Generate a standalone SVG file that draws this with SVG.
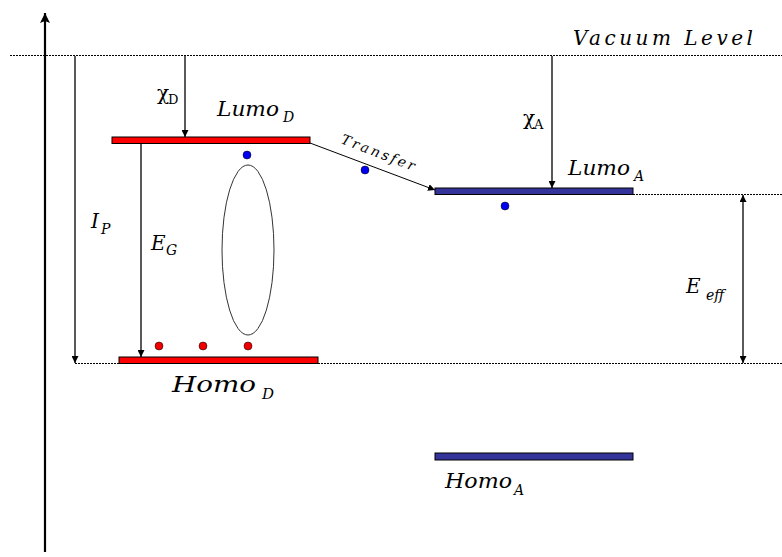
<svg xmlns="http://www.w3.org/2000/svg" width="782" height="557" viewBox="0 0 782 557">
<style>
.lbl{font-family:"DejaVu Serif","Liberation Serif",serif;font-style:italic;fill:#000;font-size:20px}
.sub{font-family:"DejaVu Serif","Liberation Serif",serif;font-style:italic;fill:#000;font-size:14px}
.chi{font-family:"DejaVu Serif","Liberation Serif",serif;fill:#000;font-size:20px}
.chs{font-family:"DejaVu Serif","Liberation Serif",serif;fill:#000;font-size:13px}
.dot{stroke:#000;stroke-width:1;stroke-dasharray:2 1;fill:none}
.ln{stroke:#000;stroke-width:1.3;fill:none}
.red{fill:#ff0000;stroke:#000;stroke-width:1}
.blue{fill:#333399;stroke:#000;stroke-width:1}
</style>
<defs>
<marker id="ah" viewBox="0 0 10 10" refX="10" refY="5" markerWidth="7" markerHeight="7" orient="auto-start-reverse" markerUnits="userSpaceOnUse">
<path d="M0,0 L10,5 L0,10 z" fill="#000"/>
</marker>
<marker id="ahb" viewBox="0 0 10 10" refX="10" refY="5" markerWidth="10" markerHeight="10" orient="auto" markerUnits="userSpaceOnUse">
<path d="M0,0 L10,5 L0,10 L2,5 z" fill="#000"/>
</marker>
</defs>
<rect width="782" height="557" fill="#fff"/>
<g id="connectors">
<line x1="45" y1="552" x2="45" y2="13" stroke="#000" stroke-width="2.2" marker-end="url(#ahb)"/>
<line class="dot" x1="10" y1="55.5" x2="782" y2="55.5"/>
<line class="dot" x1="75" y1="363.5" x2="782" y2="363.5"/>
<line class="dot" x1="633" y1="194.5" x2="782" y2="194.5"/>
<line class="ln" x1="75" y1="56" x2="75" y2="363" marker-end="url(#ah)"/>
<line class="ln" x1="185" y1="56" x2="185" y2="137" marker-end="url(#ah)"/>
<line class="ln" x1="141" y1="144" x2="141" y2="357" marker-end="url(#ah)"/>
<line class="ln" x1="552" y1="56" x2="552" y2="188" marker-end="url(#ah)"/>
<line class="ln" x1="743" y1="195" x2="743" y2="363" marker-start="url(#ah)" marker-end="url(#ah)"/>
<line x1="310" y1="143" x2="435" y2="190" stroke="#000" stroke-width="1" marker-end="url(#ah)"/>
</g>
<g id="lumo-d">
<rect class="red" x="112" y="137" width="198" height="6.5"/>
<text class="lbl" x="217" y="116" textLength="62" lengthAdjust="spacingAndGlyphs">Lumo</text>
<text class="sub" x="283" y="122">D</text>
</g>
<g id="homo-d">
<rect class="red" x="119" y="357" width="199" height="6.5"/>
<text class="lbl" x="172" y="392" style="font-size:22px" textLength="84" lengthAdjust="spacingAndGlyphs">Homo</text>
<text class="sub" x="262" y="399" style="font-size:15px">D</text>
</g>
<g id="lumo-a">
<rect class="blue" x="435" y="188" width="198" height="6.5"/>
<text class="lbl" x="568" y="175" textLength="62" lengthAdjust="spacingAndGlyphs">Lumo</text>
<text class="sub" x="634" y="181">A</text>
</g>
<g id="homo-a">
<rect class="blue" x="435" y="453" width="198" height="7"/>
<text class="lbl" x="445" y="488" textLength="67" lengthAdjust="spacingAndGlyphs">Homo</text>
<text class="sub" x="514" y="495">A</text>
</g>
<g id="exciton">
<ellipse cx="248" cy="250" rx="26" ry="85" fill="none" stroke="#333" stroke-width="1"/>
<circle cx="247" cy="155" r="4" fill="#0000ee" stroke="#000" stroke-width="0.5"/>
<circle cx="159" cy="346" r="4" fill="#ee0000" stroke="#000" stroke-width="0.5"/>
<circle cx="203" cy="346" r="4" fill="#ee0000" stroke="#000" stroke-width="0.5"/>
<circle cx="248" cy="346" r="4" fill="#ee0000" stroke="#000" stroke-width="0.5"/>
</g>
<g id="transfer">
<circle cx="365" cy="170" r="4" fill="#0000ee" stroke="#000" stroke-width="0.5"/>
<circle cx="505" cy="206" r="4" fill="#0000ee" stroke="#000" stroke-width="0.5"/>
<text class="sub" transform="translate(340,143) rotate(21)" textLength="78" lengthAdjust="spacing">Transfer</text>
</g>
<g id="labels">
<text class="lbl" x="573" y="45" textLength="180" lengthAdjust="spacing">Vacuum Level</text>
<text class="chi" x="157" y="100">χ</text>
<text class="chs" x="168" y="104">D</text>
<text class="chi" x="523" y="125">χ</text>
<text class="chs" x="534" y="129">A</text>
<text class="lbl" x="91" y="228">I</text>
<text class="sub" x="101" y="234">P</text>
<text class="lbl" x="151" y="250">E</text>
<text class="sub" x="166" y="255">G</text>
<text class="lbl" x="686" y="293">E</text>
<text class="sub" x="706" y="300">eff</text>
</g>
</svg>
